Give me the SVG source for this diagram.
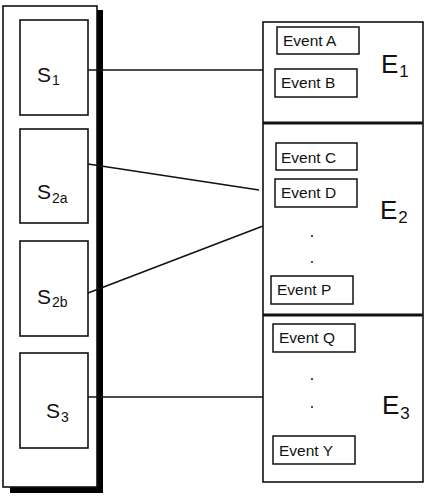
<svg xmlns="http://www.w3.org/2000/svg" width="429" height="497" viewBox="0 0 429 497">
  <style>
    .frame { fill: #fff; stroke: #111; stroke-width: 1.6; }
    .box { fill: #fff; stroke: #111; stroke-width: 1.6; }
    .ev { fill: #fff; stroke: #111; stroke-width: 1.5; }
    .divider { stroke: #111; stroke-width: 2.8; }
    .link { stroke: #111; stroke-width: 1.5; fill: none; }
    .s { font-family: "Liberation Sans", Arial, sans-serif; font-size: 21px; fill: #111; }
    .e { font-family: "Liberation Sans", Arial, sans-serif; font-size: 26px; fill: #111; }
    .sub { font-size: 14px; }
    .esub { font-size: 17px; }
    .evt { font-family: "Liberation Sans", Arial, sans-serif; font-size: 15.5px; fill: #111; }
    .dot { fill: #222; }
  </style>

  <rect width="429" height="497" fill="#fff"/>

  <!-- left column: state container with drop shadow -->
  <g id="states">
    <rect x="97" y="10" width="6" height="483" fill="#000"/>
    <rect x="10" y="487" width="93" height="6" fill="#000"/>
    <rect class="frame" x="3" y="6" width="94" height="481"/>
  </g>

  <g id="S1">
    <rect class="box" x="20" y="20" width="68" height="95"/>
    <text class="s" x="37" y="82">S<tspan class="sub" dx="1" dy="3">1</tspan></text>
  </g>
  <g id="S2a">
    <rect class="box" x="20" y="129" width="68" height="94"/>
    <text class="s" x="37" y="199">S<tspan class="sub" dx="1" dy="4">2a</tspan></text>
  </g>
  <g id="S2b">
    <rect class="box" x="20" y="241" width="68" height="95"/>
    <text class="s" x="37" y="304">S<tspan class="sub" dx="1" dy="3">2b</tspan></text>
  </g>
  <g id="S3">
    <rect class="box" x="20" y="353" width="68" height="95"/>
    <text class="s" x="46" y="418">S<tspan class="sub" dx="1" dy="4">3</tspan></text>
  </g>

  <!-- right column: event groups -->
  <g id="events">
    <rect class="frame" x="263" y="22" width="160" height="460"/>
    <line class="divider" x1="263" y1="123" x2="423" y2="123"/>
    <line class="divider" x1="263" y1="315" x2="423" y2="315"/>
  </g>

  <g id="E1">
    <rect class="ev" x="277" y="27" width="82" height="27"/>
    <text class="evt" x="283" y="46">Event A</text>
    <rect class="ev" x="275" y="69" width="82" height="28"/>
    <text class="evt" x="281" y="88">Event B</text>
    <text class="e" x="381" y="73">E<tspan class="esub" dx="1" dy="4">1</tspan></text>
  </g>

  <g id="E2">
    <rect class="ev" x="276" y="143" width="81" height="27"/>
    <text class="evt" x="281" y="163">Event C</text>
    <rect class="ev" x="275" y="179" width="82" height="28"/>
    <text class="evt" x="281" y="198">Event D</text>
    <circle class="dot" cx="312" cy="236" r="1.1"/>
    <circle class="dot" cx="312" cy="262" r="1.1"/>
    <rect class="ev" x="271" y="276" width="82" height="28"/>
    <text class="evt" x="277" y="295">Event P</text>
    <text class="e" x="380" y="219">E<tspan class="esub" dx="1" dy="4">2</tspan></text>
  </g>

  <g id="E3">
    <rect class="ev" x="273" y="324" width="82" height="28"/>
    <text class="evt" x="279" y="343">Event Q</text>
    <circle class="dot" cx="312" cy="379" r="1.1"/>
    <circle class="dot" cx="312" cy="407" r="1.1"/>
    <rect class="ev" x="273" y="436" width="82" height="28"/>
    <text class="evt" x="279" y="456">Event Y</text>
    <text class="e" x="382" y="414">E<tspan class="esub" dx="1" dy="5">3</tspan></text>
  </g>

  <!-- connectors between states and event groups -->
  <g id="connectors">
    <line class="link" x1="88" y1="70" x2="263" y2="70"/>
    <line class="link" x1="88" y1="164" x2="259" y2="190"/>
    <line class="link" x1="88" y1="293" x2="263" y2="226"/>
    <line class="link" x1="88" y1="397" x2="263" y2="397"/>
  </g>
</svg>
